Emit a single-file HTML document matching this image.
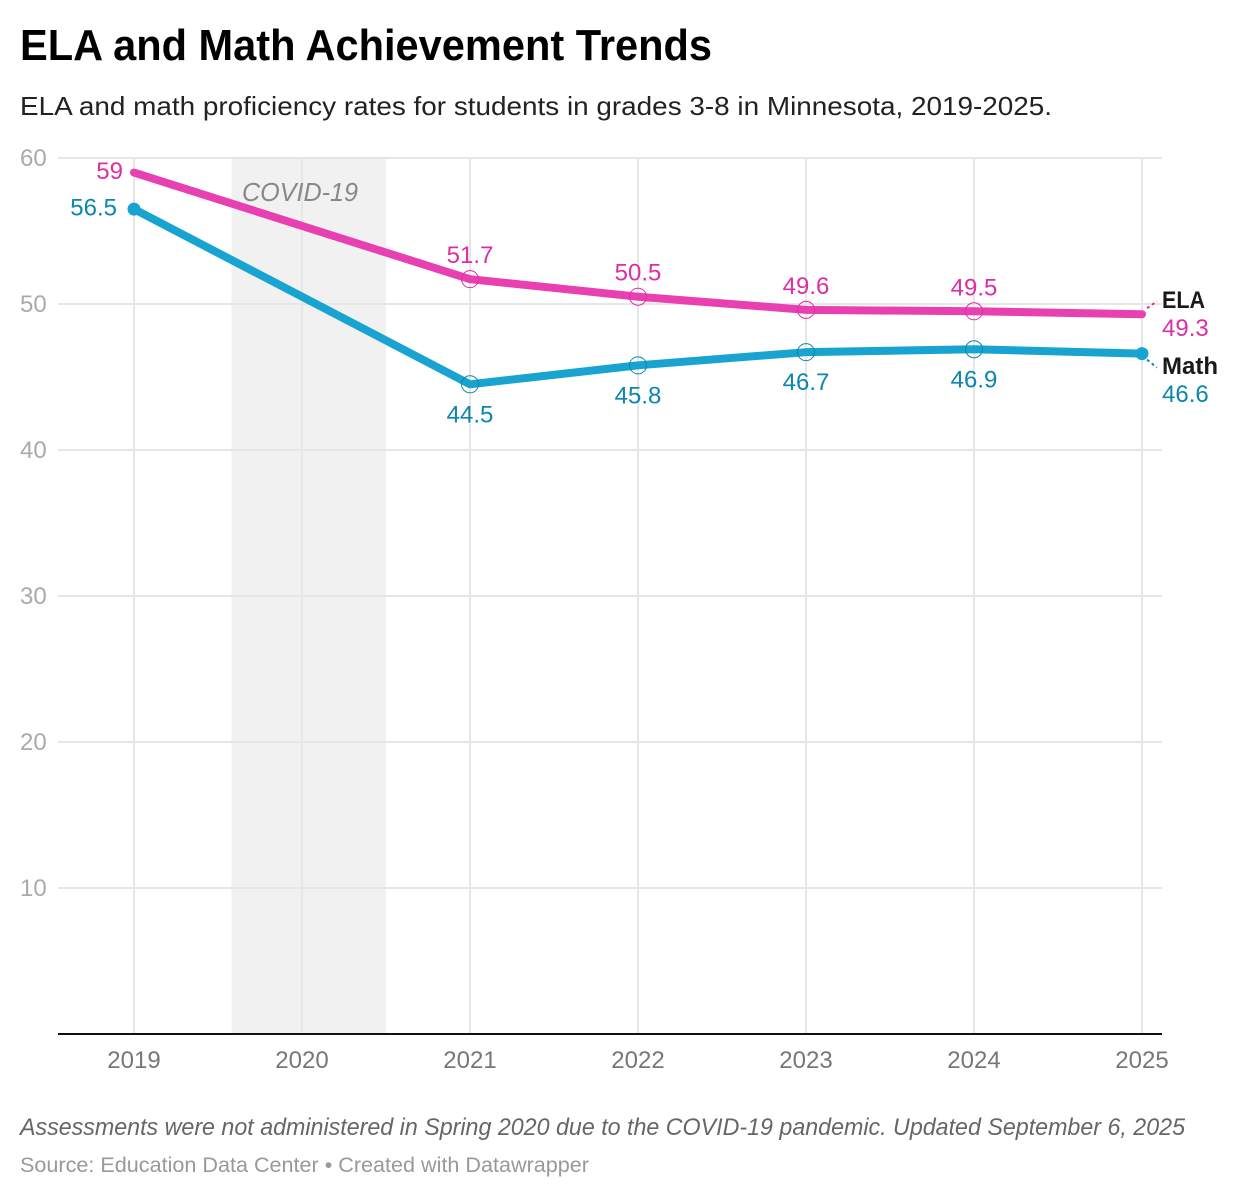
<!DOCTYPE html>
<html lang="en">
<head>
<meta charset="utf-8">
<title>ELA and Math Achievement Trends</title>
<style>
html,body{margin:0;padding:0;background:#fff;width:1238px;height:1198px;overflow:hidden}
svg{display:block;font-family:"Liberation Sans",Arial,sans-serif}
</style>
</head>
<body>
<svg id="chart" width="1238" height="1198" viewBox="0 0 1238 1198" xmlns="http://www.w3.org/2000/svg">
  <text x="20" y="60" font-size="44" font-weight="700" fill="#000" textLength="692" lengthAdjust="spacingAndGlyphs">ELA and Math Achievement Trends</text>
  <text x="20" y="115" font-size="26" fill="#222" textLength="1032" lengthAdjust="spacingAndGlyphs">ELA and math proficiency rates for students in grades 3-8 in Minnesota, 2019-2025.</text>
  <g id="plot"></g>
  <text x="20" y="1135" font-size="24" font-style="italic" fill="#666" textLength="1165" lengthAdjust="spacingAndGlyphs">Assessments were not administered in Spring 2020 due to the COVID-19 pandemic. Updated September 6, 2025</text>
  <text x="20" y="1172" font-size="21" fill="#999" textLength="569" lengthAdjust="spacingAndGlyphs">Source: Education Data Center • Created with Datawrapper</text>
</svg>
<script>
const years = [2019, 2020, 2021, 2022, 2023, 2024, 2025];
const elaValues = [59, null, 51.7, 50.5, 49.6, 49.5, 49.3];
const mathValues = [56.5, null, 44.5, 45.8, 46.7, 46.9, 46.6];
const yTicks = [10, 20, 30, 40, 50, 60];
const covidRange = [2019.58, 2020.5];

const NS = 'http://www.w3.org/2000/svg';
const plot = document.getElementById('plot');
const xScale = year => 134 + (year - 2019) * 168;
const yScale = value => 1034 - value * 14.6;

function make(tag, attrs, text) {
  const el = document.createElementNS(NS, tag);
  for (const key in attrs) el.setAttribute(key, attrs[key]);
  if (text !== undefined) el.textContent = text;
  plot.appendChild(el);
  return el;
}

/* COVID band */
const band = make('rect', {
  x: xScale(covidRange[0]), y: yScale(60),
  width: xScale(covidRange[1]) - xScale(covidRange[0]),
  height: yScale(0) - yScale(60), fill: '#f1f1f1'
});



/* Horizontal gridlines and y labels */
yTicks.forEach(tick => {
  const grid = make('line', {
    x1: 58, x2: 1162, y1: yScale(tick), y2: yScale(tick),
    stroke: '#e6e6e6', 'stroke-width': 2
  });
  
  
  const label = make('text', {
    x: 20, y: yScale(tick) + 8, 'font-size': 24, fill: '#aaa'
  }, String(tick));
  
  
});

/* Vertical gridlines and x labels */
years.forEach(year => {
  const grid = make('line', {
    x1: xScale(year), x2: xScale(year), y1: yScale(60), y2: yScale(0),
    stroke: '#e6e6e6', 'stroke-width': 2
  });
  
  
  const label = make('text', {
    x: xScale(year), y: 1068, 'font-size': 24, fill: '#777', 'text-anchor': 'middle'
  }, String(year));
  
  
});

/* Baseline */
const axisLine = make('line', {
  x1: 58, x2: 1162, y1: yScale(0), y2: yScale(0), stroke: '#111', 'stroke-width': 2
});



/* COVID annotation */
const covidLabel = make('text', {
  x: 242, y: 201, 'font-size': 26, 'font-style': 'italic', fill: '#888',
  textLength: 116, lengthAdjust: 'spacingAndGlyphs'
}, 'COVID-19');



function seriesPoints(values) {
  const points = [];
  values.forEach((value, i) => {
    if (value !== null) points.push([xScale(years[i]), yScale(value), value]);
  });
  return points;
}

function drawSeries(values, name, lineColor, textColor) {
  const points = seriesPoints(values);
  const line = make('polyline', {
    points: points.map(p => p[0] + ',' + p[1]).join(' '),
    fill: 'none', stroke: lineColor, 'stroke-width': 8,
    'stroke-linecap': 'round', 'stroke-linejoin': 'round'
  });
  
  
  points.slice(1, -1).forEach(p => {
    const ring = make('circle', {
      cx: p[0], cy: p[1], r: 8.5, fill: 'none', stroke: textColor, 'stroke-width': 1
    });
    
    
  });
  return points;
}

const ELA_LINE = '#e83fb1', ELA_TEXT = '#dc2fa6';
const MATH_LINE = '#18a3d0', MATH_TEXT = '#0d86ad';

const elaPoints = drawSeries(elaValues, 'ela', ELA_LINE, ELA_TEXT);
const mathPoints = drawSeries(mathValues, 'math', MATH_LINE, MATH_TEXT);

/* Math end dots */
[mathPoints[0], mathPoints[mathPoints.length - 1]].forEach(p => {
  const dot = make('circle', { cx: p[0], cy: p[1], r: 6.5, fill: MATH_LINE });
  
  
});

/* Value labels: middle points */
elaPoints.slice(1, -1).forEach(p => {
  const label = make('text', {
    x: p[0], y: p[1] - 16, 'font-size': 24, fill: ELA_TEXT, 'text-anchor': 'middle'
  }, String(p[2]));
  
  
});
mathPoints.slice(1, -1).forEach(p => {
  const label = make('text', {
    x: p[0], y: p[1] + 38, 'font-size': 24, fill: MATH_TEXT, 'text-anchor': 'middle'
  }, String(p[2]));
  
  
});

/* Value labels: start points */
const elaStart = make('text', {
  x: elaPoints[0][0] - 11, y: elaPoints[0][1] + 6.5, 'font-size': 24, fill: ELA_TEXT, 'text-anchor': 'end'
}, String(elaPoints[0][2]));


const mathStart = make('text', {
  x: mathPoints[0][0] - 17, y: mathPoints[0][1] + 6.5, 'font-size': 24, fill: MATH_TEXT, 'text-anchor': 'end'
}, String(mathPoints[0][2]));



/* Direct labels at line ends */
const elaEnd = elaPoints[elaPoints.length - 1];
const mathEnd = mathPoints[mathPoints.length - 1];

const elaLeader = make('line', {
  x1: elaEnd[0] + 5, y1: elaEnd[1] - 6, x2: elaEnd[0] + 15, y2: elaEnd[1] - 13,
  stroke: ELA_TEXT, 'stroke-width': 2, 'stroke-dasharray': '3 3'
});


const mathLeader = make('line', {
  x1: mathEnd[0] + 5, y1: mathEnd[1] + 6, x2: mathEnd[0] + 15, y2: mathEnd[1] + 14,
  stroke: MATH_TEXT, 'stroke-width': 2, 'stroke-dasharray': '3 3'
});



const elaName = make('text', {
  x: 1162, y: elaEnd[1] - 6, 'font-size': 24, 'font-weight': 700, fill: '#1a1a1a',
  textLength: 43, lengthAdjust: 'spacingAndGlyphs'
}, 'ELA');


const elaEndValue = make('text', {
  x: 1162, y: elaEnd[1] + 22, 'font-size': 24, fill: ELA_TEXT
}, String(elaEnd[2]));


const mathName = make('text', {
  x: 1162, y: mathEnd[1] + 20.5, 'font-size': 24, 'font-weight': 700, fill: '#1a1a1a'
}, 'Math');


const mathEndValue = make('text', {
  x: 1162, y: mathEnd[1] + 48.5, 'font-size': 24, fill: MATH_TEXT
}, String(mathEnd[2]));


</script>
</body>
</html>
